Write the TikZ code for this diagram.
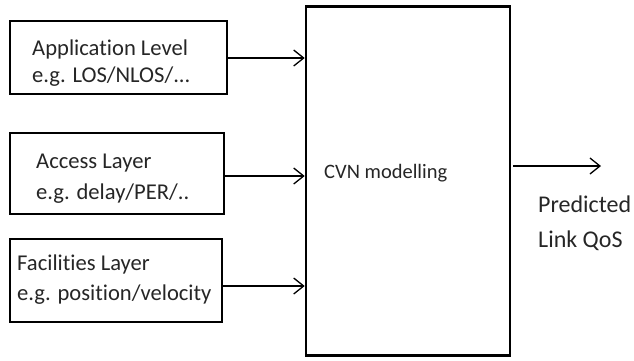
\documentclass[tikz,border=0pt]{standalone}
\usepackage{fontspec}
\setmainfont[Ligatures=NoCommon]{Carlito}
\usetikzlibrary{arrows.meta}
\begin{document}
\begin{tikzpicture}[x=1pt,y=-1pt,
  inbox/.style={draw, line width=2.6pt, inner sep=0pt},
  lbl/.style={anchor=base west, inner sep=0pt, font=\fontsize{22.6}{27}\selectfont, text=black!85},
  conn/.style={line width=1.3pt, -{Straight Barb[length=10pt,width=16pt,line width=1.3pt]}}]
\useasboundingbox (0,0) rectangle (634,360);
% boxes
\node[inbox, minimum width=217pt, minimum height=73pt] (b1) at (118.5,57.5) {};
\node[inbox, minimum width=214pt, minimum height=81pt] (b2) at (117,173.5) {};
\node[inbox, minimum width=212pt, minimum height=83pt] (b3) at (116,280.5) {};
\node[inbox, minimum width=204pt, minimum height=349pt] (cvn) at (408,181) {};
% texts
\node[lbl] (t1a) at (32,55) {Application Level};
\node[lbl] (t1b) at (32,82) {e.g. LOS/NLOS/...};
\node[lbl] (t2a) at (36,168) {Access Layer};
\node[lbl] (t2b) at (36,199) {e.g. delay/PER/..};
\node[lbl] (t3a) at (17,270) {Facilities Layer};
\node[lbl] (t3b) at (17,300) {e.g. position/velocity};
\node[lbl, font=\fontsize{20.5}{24}\selectfont] (tc) at (324,178) {CVN modelling};
\node[lbl, font=\fontsize{24}{29}\selectfont] (tp1) at (538,212) {Predicted};
\node[lbl, font=\fontsize{24}{29}\selectfont] (tp2) at (538,247.5) {Link QoS};
% connectors
\coordinate (a1) at ([yshift=-0.5pt]b1.east);
\coordinate (a2) at ([yshift=-2.5pt]b2.east);
\coordinate (a3) at ([yshift=-5.5pt]b3.east);
\draw[conn] (a1) -- (a1 -| cvn.west);
\draw[conn] (a2) -- (a2 -| cvn.west);
\draw[conn] (a3) -- (a3 -| cvn.west);
\coordinate (o1) at ([xshift=2pt,yshift=15pt]cvn.east);
\coordinate (out) at (601,166);
\draw[conn] (o1) -- (o1 -| out);
\end{tikzpicture}
\end{document}
